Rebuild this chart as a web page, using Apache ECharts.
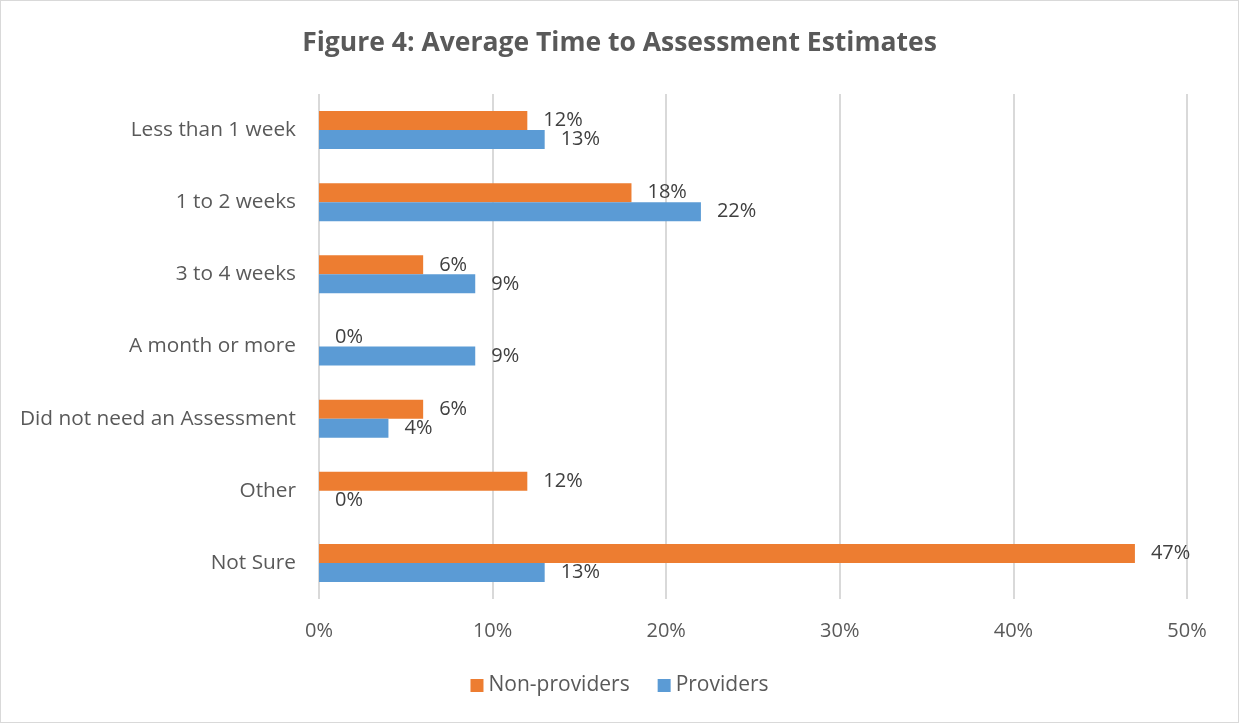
<!DOCTYPE html>
<html>
<head>
<meta charset="utf-8">
<script src="https://cdn.jsdelivr.net/npm/echarts@6/dist/echarts.min.js"></script>
<style>
html,body{margin:0;padding:0;background:#fff;}
#c{width:1237px;height:721px;border:1px solid #d9d9d9;}
</style>
</head>
<body>
<div id="c"></div>
<script>
const categories = ["Less than 1 week","1 to 2 weeks","3 to 4 weeks","A month or more","Did not need an Assessment","Other","Not Sure"];
const nonProviders = [12,18,6,0,6,12,47];
const providers = [13,22,9,9,4,0,13];
const xTicks = [0,10,20,30,40,50];

const chart = echarts.init(document.getElementById('c'));
const font = "'Open Sans', sans-serif";
chart.setOption({
  animation:false,
  title:{
    text:"Figure 4: Average Time to Assessment Estimates",
    left:'center', top:24,
    textStyle:{fontFamily:font,fontSize:26.5,fontWeight:'bold',color:'#595959'}
  },
  legend:{
    data:["Non-providers","Providers"],
    bottom:21, left:'center',
    icon:'rect', itemWidth:13, itemHeight:13, itemGap:28,
    textStyle:{fontFamily:font,fontSize:21,color:'#595959'}
  },
  grid:{left:318,right:51,top:93,bottom:123,containLabel:false},
  xAxis:{
    type:'value', min:xTicks[0], max:xTicks[xTicks.length-1], interval:10,
    axisLine:{show:false}, axisTick:{show:false},
    splitLine:{show:true,lineStyle:{color:'#d9d9d9',width:2}},
    axisLabel:{formatter:'{value}%',fontFamily:font,fontSize:20,color:'#595959',margin:22}
  },
  yAxis:{
    type:'category', data:categories, inverse:true,
    axisLine:{show:false}, axisTick:{show:false},
    axisLabel:{fontFamily:font,fontSize:20.8,color:'#595959',margin:23}
  },
  series:[
    {name:"Non-providers",type:'bar',data:nonProviders,barWidth:19,barGap:'0%',
     itemStyle:{color:'#ED7D31'},
     label:{show:true,position:'right',distance:16,formatter:'{c}%',fontFamily:font,fontSize:20,color:'#404040'}},
    {name:"Providers",type:'bar',data:providers,barWidth:19,barGap:'0%',
     itemStyle:{color:'#5B9BD5'},
     label:{show:true,position:'right',distance:16,formatter:'{c}%',fontFamily:font,fontSize:20,color:'#404040'}}
  ]
});
</script>
</body>
</html>
